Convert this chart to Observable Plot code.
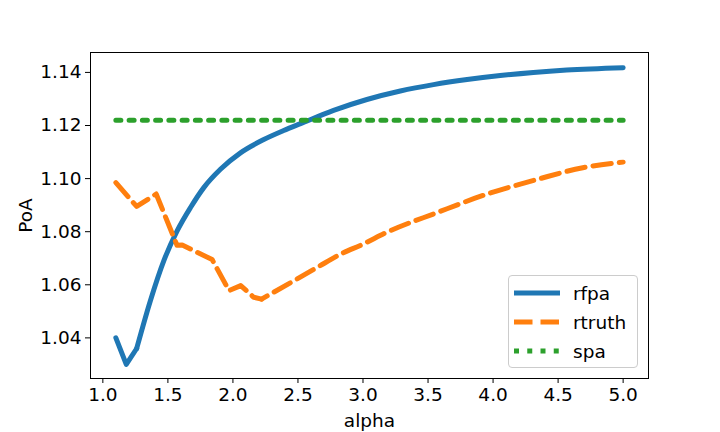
<!DOCTYPE html>
<html>
<head>
<meta charset="utf-8">
<script src="https://cdn.jsdelivr.net/npm/d3@7"></script>
<script src="https://cdn.jsdelivr.net/npm/@observablehq/plot@0.6"></script>
<style>
  html, body { margin: 0; padding: 0; background: #fff; }
  #wrap { position: relative; width: 720px; height: 432px; font-family: "DejaVu Sans", sans-serif; }
  #legend { position: absolute; left: 508px; top: 275px; width: 130px; height: 93px;
    border: 1px solid #cccccc; border-radius: 4px; background: rgba(255,255,255,0.8); box-sizing: border-box; }
  .row { position: absolute; left: 0; height: 28px; display: flex; align-items: center; }
  .row span { font-size: 18.5px; color: #000; margin-left: 13px; }
  .row svg { margin-left: 5px; }
</style>
</head>
<body>
<div id="wrap"></div>
<script>
// rfpa series
const rfpaAlpha = [1.1, 1.18, 1.26, 1.366, 1.469, 1.571, 1.674, 1.776, 1.904, 2.058, 2.237, 2.39, 2.52, 2.774, 3.03, 3.287, 3.542, 3.80, 4.055, 4.31, 4.566, 5.0];
const rfpaPoA   = [1.040, 1.030, 1.036, 1.0541, 1.0691, 1.0803, 1.0891, 1.0966, 1.1035, 1.1097, 1.1147, 1.1181, 1.1207, 1.1257, 1.1298, 1.1330, 1.1354, 1.1373, 1.1388, 1.1400, 1.1409, 1.1418];
// rtruth series
const rtruthAlpha = [1.1, 1.26, 1.41, 1.57, 1.61, 1.84, 1.97, 2.06, 2.16, 2.22, 2.49, 2.65, 2.83, 3.0, 3.18, 3.57, 3.95, 4.34, 4.69, 5.0];
const rtruthPoA   = [1.0985, 1.0895, 1.0942, 1.0749, 1.0750, 1.0695, 1.0578, 1.0597, 1.0553, 1.0546, 1.0621, 1.0666, 1.0716, 1.0753, 1.0797, 1.0872, 1.0941, 1.0997, 1.1041, 1.1062];
// spa series
const spaAlpha = [1.1, 5.0];
const spaPoA   = [1.122, 1.122];

const xTicks = [1.0, 1.5, 2.0, 2.5, 3.0, 3.5, 4.0, 4.5, 5.0];
const yTicks = [1.04, 1.06, 1.08, 1.10, 1.12, 1.14];
const seriesNames = ["rfpa", "rtruth", "spa"];
const seriesColors = ["#1f77b4", "#ff7f0e", "#2ca02c"];
const seriesDash = [null, "18.5,8", "5,8.25"];

const rfpa = rfpaAlpha.map((a, i) => ({alpha: a, poa: rfpaPoA[i]}));
const rtruth = rtruthAlpha.map((a, i) => ({alpha: a, poa: rtruthPoA[i]}));
const spa = spaAlpha.map((a, i) => ({alpha: a, poa: spaPoA[i]}));

const fs = 18.5;
const chart = Plot.plot({
  width: 720, height: 432,
  marginLeft: 90, marginRight: 72, marginTop: 52, marginBottom: 54,
  style: {fontFamily: "DejaVu Sans, sans-serif", color: "#000", background: "#fff"},
  x: {domain: [0.905, 5.195]},
  y: {domain: [1.0247, 1.1475]},
  marks: [
    Plot.line(rfpa.filter(d => d.alpha <= 1.26), {x: "alpha", y: "poa", stroke: seriesColors[0], strokeWidth: 5, strokeLinejoin: "round", strokeLinecap: "round"}),
    Plot.line(rfpa.filter(d => d.alpha >= 1.26), {x: "alpha", y: "poa", curve: "monotone-x", stroke: seriesColors[0], strokeWidth: 5, strokeLinejoin: "round", strokeLinecap: "round"}),
    Plot.line(rtruth.filter(d => d.alpha <= 2.22), {x: "alpha", y: "poa", stroke: seriesColors[1], strokeWidth: 5, strokeDasharray: seriesDash[1], strokeLinejoin: "round"}),
    Plot.line(rtruth.filter(d => d.alpha >= 2.22), {x: "alpha", y: "poa", curve: "monotone-x", stroke: seriesColors[1], strokeWidth: 5, strokeDasharray: seriesDash[1], strokeDashoffset: 12, strokeLinejoin: "round"}),
    Plot.line(spa, {x: "alpha", y: "poa", stroke: seriesColors[2], strokeWidth: 5, strokeDasharray: seriesDash[2]}),
    Plot.frame({stroke: "#000", strokeWidth: 1}),
    Plot.axisX({ticks: xTicks, tickFormat: d => d.toFixed(1), tickSize: 5, tickPadding: 4, fontSize: fs,
      label: "alpha", labelAnchor: "center", labelArrow: "none", labelOffset: 48}),
    Plot.axisY({ticks: yTicks, tickFormat: d => d.toFixed(2), tickSize: 5, tickPadding: 4, fontSize: fs,
      label: "PoA", labelAnchor: "center", labelArrow: "none", labelOffset: 72})
  ]
});
const wrap = document.getElementById("wrap");
wrap.appendChild(chart);

const legend = document.createElement("div");
legend.id = "legend";
seriesNames.forEach((name, i) => {
  const row = document.createElement("div");
  row.className = "row";
  row.style.top = (3 + i * 29) + "px";
  const dash = seriesDash[i] ? `stroke-dasharray="${seriesDash[i]}"` : "";
  row.innerHTML = `<svg width="46" height="10"><line x1="0" x2="46" y1="5" y2="5" stroke="${seriesColors[i]}" stroke-width="5" ${dash}/></svg><span>${name}</span>`;
  legend.appendChild(row);
});
wrap.appendChild(legend);
</script>
</body>
</html>
